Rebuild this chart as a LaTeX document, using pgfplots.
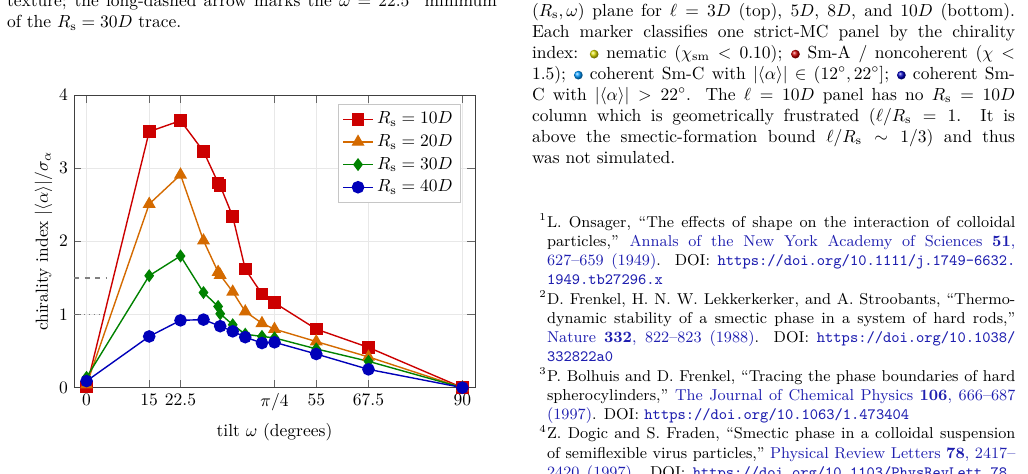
\documentclass[border=0pt]{standalone}
\usepackage{pgfplots}
\pgfplotsset{compat=1.18}

\definecolor{cRed}{RGB}{204,0,0}
\definecolor{cOrange}{RGB}{212,106,0}
\definecolor{cGreen}{RGB}{0,130,0}
\definecolor{cBlue}{RGB}{0,0,185}
\definecolor{linkblue}{RGB}{30,30,175}

\newcommand{\ball}[1]{\tikz[baseline=-0.55ex]\shade[ball color=#1] (0,0) circle (2.5pt);}
\newcommand{\Rs}{R_{\mathrm{s}}}

\begin{document}
\begin{tikzpicture}
\useasboundingbox (0,0) rectangle (587.4pt,-270.3pt);

% end of the caption in the left column
\node[anchor=north west, inner sep=0pt, text width=280pt, align=justify,
      font=\fontsize{10}{12}\selectfont] at (3.8pt,4.7pt)
{\strut texture; the long-dashed arrow marks the $\omega = 22.5^\circ$ minimum\linebreak
of the $\Rs = 30D$ trace.};

% right column: end of the phase-diagram caption
\node[anchor=north west, inner sep=0pt, text width=276pt, align=justify,
      font=\fontsize{10}{12}\selectfont] at (303.8pt,-0.7pt)
{\strut $(\Rs,\omega)$ plane for $\ell = 3D$ (top), $5D$, $8D$, and $10D$ (bottom).\linebreak
Each marker classifies one strict-MC panel by the chirality\linebreak
index: \ball{yellow!85!black} nematic ($\chi_{\mathrm{sm}} < 0.10$); \ball{red!80!black} Sm-A / noncoherent ($\chi <$\linebreak
1.5); \ball{cyan!60!blue} coherent Sm-C with $|\langle\alpha\rangle| \in (12^\circ, 22^\circ]$; \ball{blue!75!black} coherent Sm-\linebreak
C with $|\langle\alpha\rangle| > 22^\circ$.  The $\ell = 10D$ panel has no $\Rs = 10D$\linebreak
column which is geometrically frustrated ($\ell/\Rs = 1$.  It is\linebreak
above the smectic-formation bound $\ell/\Rs \sim 1/3$) and thus\linebreak
was not simulated.};

% references
\node[anchor=north west, inner sep=0pt, text width=272pt, align=justify,
      font=\fontsize{9}{11}\selectfont] at (308pt,-121.8pt)
{%
\hangindent=4.4pt\hangafter=1\noindent\strut\makebox[4.4pt][l]{\textsuperscript{1}}L. Onsager, ``The effects of shape on the interaction of colloidal\linebreak
particles,'' {\color{linkblue}Annals of the New York Academy of Sciences \textbf{51},\linebreak
627--659 (1949)}.  DOI: {\color{linkblue}\texttt{https://doi.org/10.1111/j.1749-6632.}}\linebreak
{\color{linkblue}\texttt{1949.tb27296.x}}\par
\hangindent=4.4pt\hangafter=1\noindent\makebox[4.4pt][l]{\textsuperscript{2}}D. Frenkel, H. N. W. Lekkerkerker, and A. Stroobants, ``Thermo-\linebreak
dynamic stability of a smectic phase in a system of hard rods,''\linebreak
{\color{linkblue}Nature \textbf{332}, 822--823 (1988)}.  DOI: {\color{linkblue}\texttt{https://doi.org/10.1038/}}\linebreak
{\color{linkblue}\texttt{332822a0}}\par
\hangindent=4.4pt\hangafter=1\noindent\makebox[4.4pt][l]{\textsuperscript{3}}P. Bolhuis and D. Frenkel, ``Tracing the phase boundaries of hard\linebreak
spherocylinders,'' {\color{linkblue}The Journal of Chemical Physics \textbf{106}, 666--687\linebreak
(1997)}.  DOI: {\color{linkblue}\texttt{https://doi.org/10.1063/1.473404}}\par
\hangindent=4.4pt\hangafter=1\noindent\makebox[4.4pt][l]{\textsuperscript{4}}Z. Dogic and S. Fraden, ``Smectic phase in a colloidal suspension\linebreak
of semiflexible virus particles,'' {\color{linkblue}Physical Review Letters \textbf{78}, 2417--\linebreak
2420 (1997)}.  DOI: {\color{linkblue}\texttt{https://doi.org/10.1103/PhysRevLett.78.}}\linebreak
{\color{linkblue}\texttt{2417}}\par
};

\begin{axis}[
  scale only axis,
  width=229.1pt, height=167.2pt,
  at={(42.3pt,-221.5pt)}, anchor=south west,
  xmin=-3, xmax=93, ymin=0, ymax=4,
  xtick={0,15,22.5,45,55,67.5,90},
  xticklabels={$0$,$15$,$22.5$,$\pi/4$,$55$,$67.5$,$90$},
  ytick={0,1,2,3,4},
  grid=major,
  grid style={gray!18, line width=0.5pt},
  axis line style={black!75},
  tick style={black!60},
  xlabel={tilt $\omega$ (degrees)},
  ylabel={chirality index $|\langle\alpha\rangle|/\sigma_\alpha$},
  ylabel shift=-3pt,
  legend style={at={(0.965,0.97)}, anchor=north east, draw=gray!45,
                fill=white, row sep=0.6pt, inner sep=2.5pt},
  legend cell align=left,
  every axis plot/.append style={line width=0.8pt},
]
% reference levels near the left edge
\addplot[forget plot, gray, dashed, line width=0.7pt] coordinates {(-3,1.5) (5,1.5)};
\addplot[forget plot, gray, dotted, line width=0.7pt] coordinates {(-3,1) (5,1)};

\addplot[cRed, mark=square*, mark size=3.2pt, mark options={fill=cRed}] coordinates {
  (0,0.01) (15,3.50) (22.5,3.65) (28,3.23) (31.5,2.80) (32,2.76) (35,2.34)
  (38,1.62) (42,1.28) (45,1.16) (55,0.80) (67.5,0.55) (90,0.0)};
\addlegendentry{$\Rs = 10D$}

\addplot[cOrange, mark=triangle*, mark size=3.5pt, mark options={fill=cOrange}] coordinates {
  (0,0.04) (15,2.51) (22.5,2.91) (28,2.01) (31.5,1.58) (32,1.54) (35,1.31)
  (38,1.04) (42,0.88) (45,0.80) (55,0.63) (67.5,0.42) (90,0.0)};
\addlegendentry{$\Rs = 20D$}

\addplot[cGreen, mark=diamond*, mark size=3.1pt, mark options={fill=cGreen}] coordinates {
  (0,0.14) (15,1.53) (22.5,1.80) (28,1.30) (31.5,1.11) (32,1.01) (35,0.86)
  (38,0.73) (42,0.70) (45,0.68) (55,0.53) (67.5,0.36) (90,0.0)};
\addlegendentry{$\Rs = 30D$}

\addplot[cBlue, mark=*, mark size=3.2pt, mark options={fill=cBlue}] coordinates {
  (0,0.09) (15,0.70) (22.5,0.92) (28,0.93) (32,0.84) (35,0.77)
  (38,0.69) (42,0.61) (45,0.62) (55,0.46) (67.5,0.25) (90,0.0)};
\addlegendentry{$\Rs = 40D$}
\end{axis}
\end{tikzpicture}
\end{document}
